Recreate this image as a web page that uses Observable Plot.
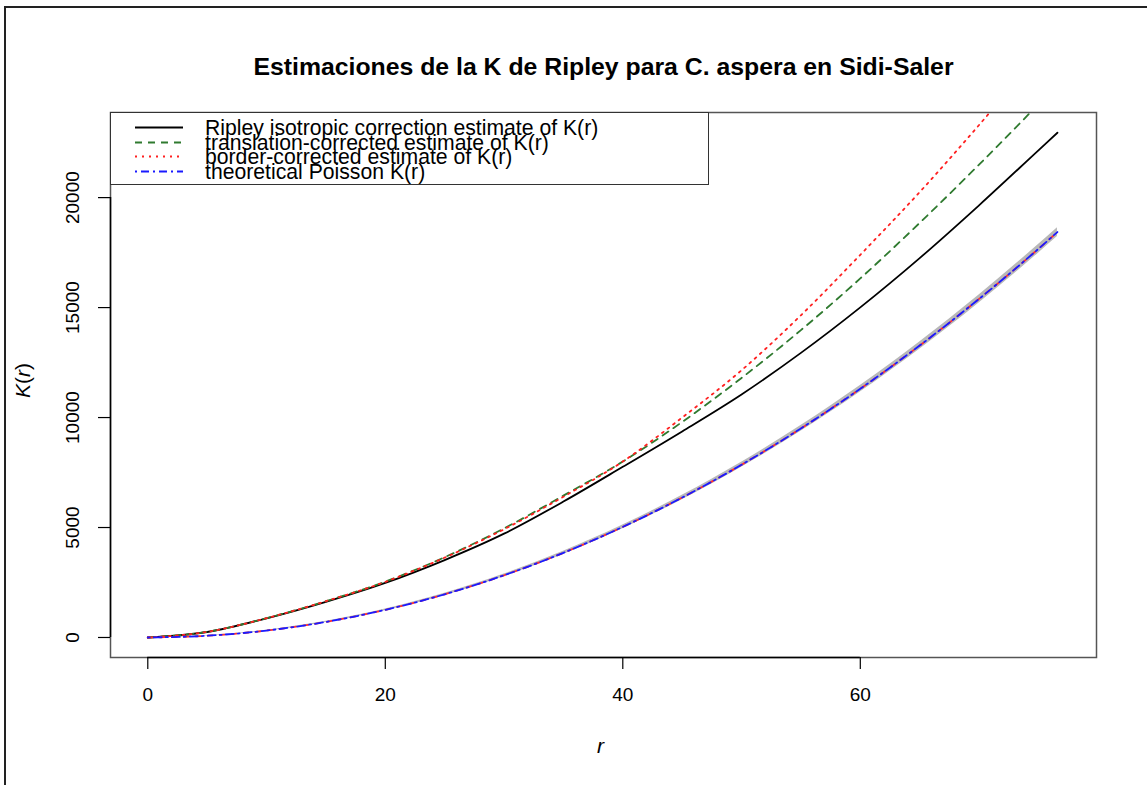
<!DOCTYPE html>
<html><head><meta charset="utf-8">
<script src="https://cdn.jsdelivr.net/npm/d3@7"></script>
<script src="https://cdn.jsdelivr.net/npm/@observablehq/plot@0.6"></script>
<style>
html,body{margin:0;padding:0;background:#fff;}
#wrap{position:relative;width:1147px;height:785px;overflow:hidden;font-family:"Liberation Sans",Arial,Helvetica,sans-serif;color:#000;}
#frame{position:absolute;left:4px;top:6px;width:1300px;height:900px;border:2px solid #222;}
#title{position:absolute;left:0;width:1207px;top:52px;text-align:center;font-weight:bold;font-size:24.8px;line-height:30px;}
#chart{position:absolute;left:0;top:0;}
.lab{position:absolute;font-size:21px;line-height:21px;}
#legend{position:absolute;left:110px;top:112px;width:599px;height:73px;border:1.5px solid #333;box-sizing:border-box;background:#fff;}
.row{position:absolute;left:0;height:20px;width:590px;}
.row svg{position:absolute;left:22px;top:0;}
.row span{position:absolute;left:94px;top:1px;font-size:21.2px;line-height:20px;white-space:nowrap;}
</style></head>
<body>
<div id="wrap">
  <div id="frame"></div>
  <div id="title">Estimaciones de la K de Ripley para C. aspera en Sidi-Saler</div>
  <div id="chart"></div>
  <div id="legend"></div>
  <div class="lab" style="left:597px;top:735px;font-style:italic;">r</div>
  <div class="lab" style="left:-2px;top:370px;width:48px;text-align:center;transform:rotate(-90deg);"><i>K</i>(<i>r</i>)</div>
</div>
<script>
// ---- data ----
const rVals      = [0, 5, 10, 15, 20, 25, 30, 35, 40, 45, 50, 55, 60, 65, 70, 75, 76.6];
const isoVals    = [0, 250, 870, 1620, 2480, 3520, 4720, 6180, 7760, 9370, 11050, 12940, 15010, 17250, 19650, 22150, 22950];
const transVals  = [0, 255, 880, 1650, 2540, 3650, 4960, 6450, 8000, 9800, 11800, 13975, 16325, 18850, 21500, 24250, 25150];
const borderVals = [0, 255, 880, 1650, 2530, 3630, 4920, 6400, 8000, 10000, 12150, 14650, 17400, 20250, 23300, 26500, 27500];
const theoVals   = [0, 79, 314, 707, 1257, 1963, 2827, 3848, 5027, 6362, 7854, 9503, 11310, 13273, 15394, 17671, 18433];
const loVals     = [0, 69, 294, 677, 1217, 1913, 2767, 3778, 4942, 6262, 7739, 9373, 11160, 13108, 15214, 17476, 18233];
const hiVals     = [0, 89, 334, 737, 1297, 2013, 2887, 3918, 5112, 6462, 7969, 9633, 11460, 13438, 15574, 17866, 18633];
const xTicks = [0, 20, 40, 60];
const yTicks = [0, 5000, 10000, 15000, 20000];
const legendLabels = [
  "Ripley isotropic correction estimate of K(r)",
  "translation-corrected estimate of K(r)",
  "border-corrected estimate of K(r)",
  "theoretical Poisson K(r)"
];

const rows = rVals.map((r, i) => ({r, iso: isoVals[i], trans: transVals[i], border: borderVals[i], theo: theoVals[i], lo: loVals[i], hi: hiVals[i]}));

const styles = [
  {stroke: "#000000", dash: null, width: 1.8},
  {stroke: "#2f7a2f", dash: "7,6", width: 1.8},
  {stroke: "#ff2020", dash: "2,5", width: 1.8},
  {stroke: "#1a1aff", dash: "2,4,8,4", width: 1.8}
];

const xDomain = [-3.14, 79.89];
const yDomain = [-910, 23870];
const crv = "monotone-x";

const chart = Plot.plot({
  width: 1147, height: 785,
  marginLeft: 110, marginRight: 51, marginTop: 112, marginBottom: 128,
  x: {domain: xDomain},
  y: {domain: yDomain},
  style: {fontFamily: '"Liberation Sans", Arial, sans-serif', background: "transparent", color: "#000", overflow: "visible"},
  marks: [
    Plot.areaY(rows, {x: "r", y1: "lo", y2: "hi", fill: "#b8b8b8", curve: crv, clip: true}),
    Plot.line(rows, {x: "r", y: "iso", stroke: styles[0].stroke, strokeWidth: styles[0].width, curve: crv, clip: true}),
    Plot.line(rows, {x: "r", y: "trans", stroke: styles[1].stroke, strokeWidth: styles[1].width, strokeDasharray: styles[1].dash, curve: crv, clip: true}),
    Plot.line(rows, {x: "r", y: "border", stroke: styles[2].stroke, strokeWidth: styles[2].width, strokeDasharray: styles[2].dash, curve: crv, clip: true}),
    Plot.line(rows, {x: "r", y: "theo", stroke: "#ff3030", strokeWidth: 1.8, strokeDasharray: "5,7", curve: crv, clip: true}),
    Plot.line(rows, {x: "r", y: "theo", stroke: styles[3].stroke, strokeWidth: styles[3].width, strokeDasharray: styles[3].dash, curve: crv, clip: true}),
    Plot.frame({stroke: "#555", strokeWidth: 1.5}),
    Plot.ruleY([yDomain[0]], {x1: xTicks[0], x2: xTicks[xTicks.length - 1], stroke: "#000", strokeWidth: 1.5}),
    Plot.ruleX([xDomain[0]], {y1: yTicks[0], y2: yTicks[yTicks.length - 1], stroke: "#000", strokeWidth: 1.5}),
    Plot.axisX({ticks: xTicks, tickSize: 12, tickPadding: 18, fontSize: 19, label: null, strokeWidth: 1.2}),
    Plot.axisY({ticks: yTicks, tickSize: 12, tickFormat: () => "", label: null, strokeWidth: 1.2}),
    Plot.text(yTicks, {y: d => d, text: d => String(d), frameAnchor: "left", dx: -38, rotate: -90, fontSize: 19, textAnchor: "middle", lineAnchor: "middle"})
  ]
});
document.getElementById("chart").appendChild(chart);

// legend
const leg = document.getElementById("legend");
const rowTops = [4, 18.5, 33, 47.5];
legendLabels.forEach((lab, i) => {
  const row = document.createElement("div");
  row.className = "row";
  row.style.top = rowTops[i] + "px";
  const s = styles[i];
  row.innerHTML = `<svg width="52" height="20"><line x1="2" x2="50" y1="10.5" y2="10.5" stroke="${s.stroke}" stroke-width="1.8" ${s.dash ? `stroke-dasharray="${s.dash}"` : ""}/></svg><span>${lab}</span>`;
  leg.appendChild(row);
});
</script>
</body></html>
